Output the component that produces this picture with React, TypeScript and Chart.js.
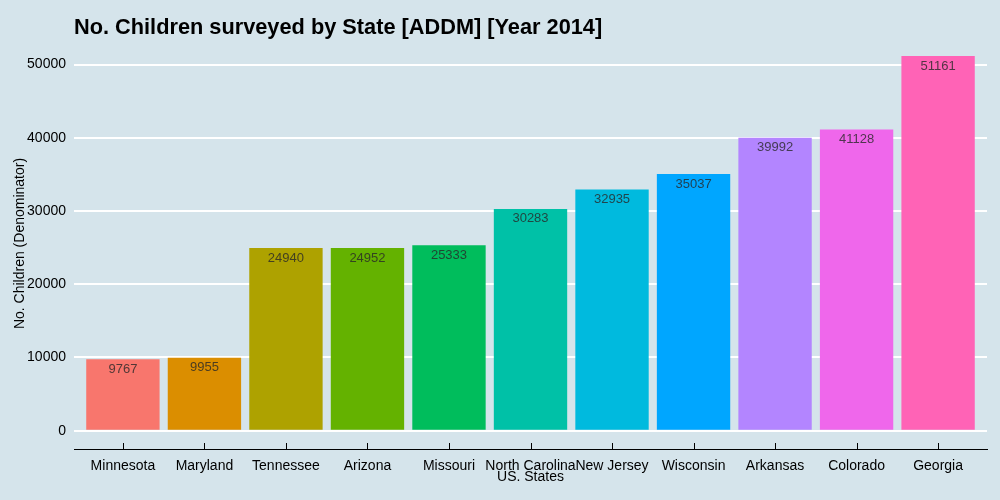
import React, { useEffect, useRef } from "react";
import { Chart, registerables } from "chart.js";

Chart.register(...registerables);

const states = ["Minnesota", "Maryland", "Tennessee", "Arizona", "Missouri", "North Carolina", "New Jersey", "Wisconsin", "Arkansas", "Colorado", "Georgia"];
const children = [9767, 9955, 24940, 24952, 25333, 30283, 32935, 35037, 39992, 41128, 51161];
const barColors = ["#F8766D", "#DB8E00", "#AEA200", "#64B200", "#00BD5C", "#00C1A7", "#00BADE", "#00A6FF", "#B385FF", "#EF67EB", "#FF63B6"];
const yTicks = [0, 10000, 20000, 30000, 40000, 50000];
const titleText = "No. Children surveyed by State [ADDM] [Year 2014]";
const xTitle = "US. States";
const yTitle = "No. Children (Denominator)";

const FONT = "'Liberation Sans', Arial, sans-serif";
const BG = "#d5e4eb";

const overlay = {
  id: "overlay",
  afterDatasetsDraw(chart: any) {
    const ctx = chart.ctx;
    const meta = chart.getDatasetMeta(0);
    const xs = chart.scales.x;
    ctx.save();
    // inward x-axis tick marks
    ctx.strokeStyle = "#000";
    ctx.lineWidth = 1;
    const axisY = chart.chartArea.bottom;
    states.forEach((_, i) => {
      const px = Math.round(xs.getPixelForValue(i)) + 0.5;
      ctx.beginPath();
      ctx.moveTo(px, axisY - 6);
      ctx.lineTo(px, axisY);
      ctx.stroke();
    });
    ctx.font = `13px ${FONT}`;
    ctx.fillStyle = "rgba(40,40,40,0.8)";
    ctx.textAlign = "center";
    ctx.textBaseline = "middle";
    meta.data.forEach((el: any, i: number) => {
      ctx.fillText(String(children[i]), el.x, el.y + 10);
    });
    ctx.font = `bold 21.75px ${FONT}`;
    ctx.fillStyle = "#000";
    ctx.textAlign = "left";
    ctx.fillText(titleText, chart.chartArea.left, 28);
    ctx.restore();
  },
};

export default function App() {
  const ref = useRef<HTMLCanvasElement>(null);
  useEffect(() => {
    if (!ref.current) return;
    const n = states.length;
    const chart = new Chart(ref.current, {
      type: "bar",
      data: {
        datasets: [
          {
            data: children.map((v, i) => ({ x: i, y: v })),
            backgroundColor: barColors,
            barPercentage: 0.9,
            categoryPercentage: 1,
            borderWidth: 0,
          },
        ],
      },
      options: {
        animation: false,
        responsive: false,
        layout: { padding: { top: 38, right: 13, left: 0, bottom: 0 } },
        plugins: { legend: { display: false }, tooltip: { enabled: false }, title: { display: false } },
        scales: {
          x: {
            type: "linear",
            offset: false,
            min: -0.6,
            max: n - 1 + 0.6,
            afterBuildTicks: (s: any) => {
              s.ticks = states.map((_, i) => ({ value: i }));
            },
            afterFit: (s: any) => {
              s.height = 51;
            },
            ticks: {
              autoSkip: false,
              maxRotation: 0,
              color: "#000",
              font: { family: FONT, size: 14 },
              padding: 9,
              callback: (v: any) => states[v] ?? "",
            },
            grid: { display: true, drawOnChartArea: false, drawTicks: false, color: "#000", lineWidth: 1 },
            border: { display: true, color: "#000", width: 1 },
            title: { display: true, text: xTitle, color: "#000", font: { family: FONT, size: 14 }, padding: { top: 0, bottom: 14 } },
          },
          y: {
            min: -2500,
            max: 53620,
            afterBuildTicks: (s: any) => {
              s.ticks = yTicks.map((v) => ({ value: v }));
            },
            afterFit: (s: any) => {
              s.width = 74;
            },
            ticks: { color: "#000", font: { family: FONT, size: 14 }, padding: 8, callback: (v: any) => String(v) },
            grid: { color: "#ffffff", lineWidth: 2, drawTicks: false },
            border: { display: false },
            title: { display: true, text: yTitle, color: "#000", font: { family: FONT, size: 14 }, padding: { top: 12, bottom: 0 } },
          },
        },
      },
      plugins: [overlay],
    });
    return () => chart.destroy();
  }, []);
  return (
    <div style={{ position: "fixed", left: 0, top: 0, width: 1000, height: 500, background: BG }}>
      <canvas ref={ref} width={1000} height={500} />
    </div>
  );
}
